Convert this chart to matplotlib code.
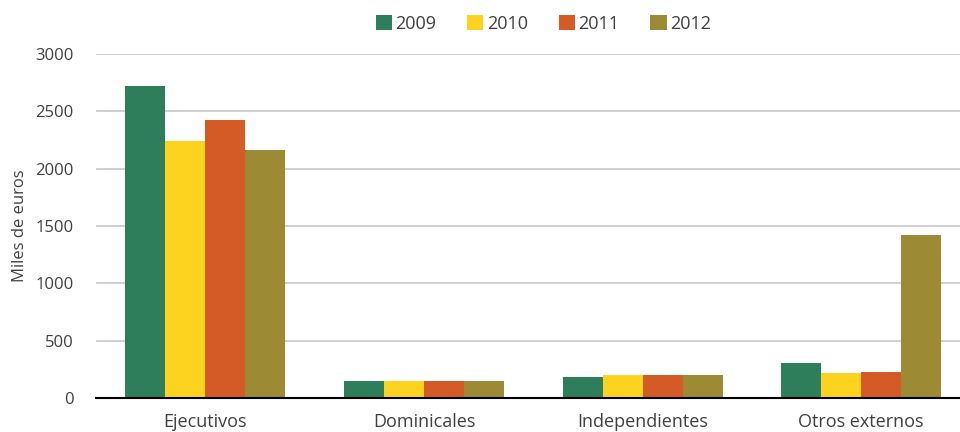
import matplotlib
matplotlib.use("Agg")
import matplotlib.pyplot as plt
import numpy as np

categories = ["Ejecutivos", "Dominicales", "Independientes", "Otros externos"]
years = ["2009", "2010", "2011", "2012"]
v2009 = [2720, 148, 183, 305]
v2010 = [2240, 148, 200, 218]
v2011 = [2424, 148, 200, 227]
v2012 = [2162, 148, 200, 1421]
yticks = [0, 500, 1000, 1500, 2000, 2500, 3000]

colors = ["#2E7D5B", "#FDD31F", "#D45B26", "#9C8A34"]
plt.rcParams['font.family'] = ['Open Sans', 'DejaVu Sans']

fig = plt.figure(figsize=(9.6, 4.32), dpi=100)
ax = fig.add_axes([0.1, 0.0787, 0.911, 0.7963])

x = np.arange(len(categories))
w = 0.183
series = [v2009, v2010, v2011, v2012]
for i, (vals, yr) in enumerate(zip(series, years)):
    ax.bar(x + (i - 1.5) * w, vals, w, color=colors[i], label=yr, zorder=3)

ax.set_xlim(-0.5, len(categories) - 0.5)
ax.set_ylim(0, 3000)
ax.set_yticks(yticks)
ax.set_yticklabels([str(t) for t in yticks], fontsize=12, color="#404040")
ax.set_xticks(x)
ax.set_xticklabels(categories, fontsize=13, color="#404040")
ax.tick_params(axis='y', length=0, pad=16)
ax.tick_params(axis='x', length=0, pad=11)
ax.grid(axis='y', color="#C8C8C8", linewidth=1.2, zorder=0)
for s in ["top", "right", "left"]:
    ax.spines[s].set_visible(False)
ax.spines["bottom"].set_color("black")
ax.spines["bottom"].set_linewidth(1.5)
ax.spines["bottom"].set_zorder(4)
ax.set_ylabel("Miles de euros", fontsize=12, color="#404040", labelpad=5)

fig.legend(loc="center", bbox_to_anchor=(0.566, 0.944), ncol=4,
           frameon=False, fontsize=13, handlelength=0.9, handleheight=0.9,
           handletextpad=0.2, columnspacing=1.7, labelcolor="#404040")

fig.savefig("out.png", dpi=100)
